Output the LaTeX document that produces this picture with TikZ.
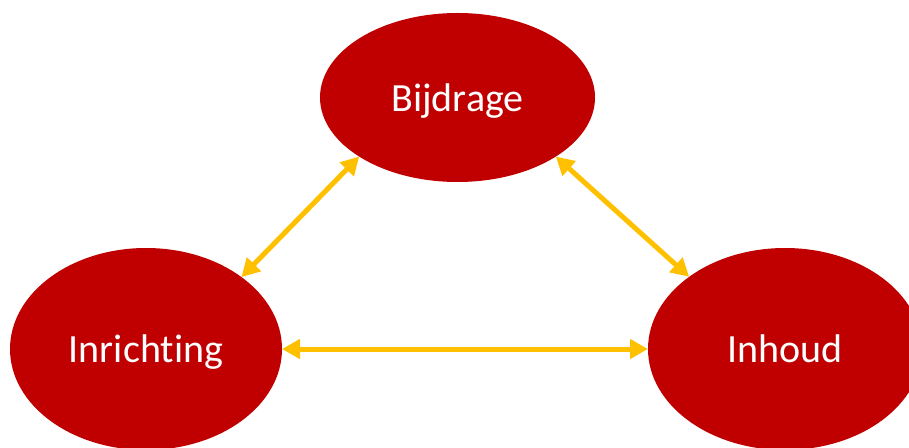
\documentclass[tikz,border=0pt]{standalone}
\usepackage{fontspec}
\setmainfont{Carlito}[Ligatures=NoCommon]
\usepackage{tikz}
\usetikzlibrary{shapes,arrows.meta,positioning}
\definecolor{donkerrood}{HTML}{C00000}
\definecolor{goud}{HTML}{FFC000}

\begin{document}
\begin{tikzpicture}[x=1pt, y=1pt,
		blob/.style={ellipse, fill=donkerrood, text=white, inner sep=0pt, outer sep=0pt, text depth=0pt, font=\fontsize{40}{48}\selectfont},
		link/.style={<->, >={Triangle[length=18pt,width=19pt]}, line width=5pt, draw=goud}]
				\useasboundingbox (0,0) rectangle (909,447);
				\node [blob, minimum width=275pt, minimum height=169pt] (bijdrage) at (457.5,349.5) {Bijdrage};
				\node [blob, minimum width=272pt, minimum height=202pt] (inrichting) at (146,98) {Inrichting};
				\node [blob, minimum width=274pt, minimum height=202pt] (inhoud) at (785,98) {Inhoud};
				\draw [link] (inrichting.37) -- (bijdrage.211.4);
				\draw [link] (bijdrage.-31) -- (inhoud.143.8);
				\draw [link] (inrichting.east) -- (inhoud.west);
				\end{tikzpicture}
\end{document}
